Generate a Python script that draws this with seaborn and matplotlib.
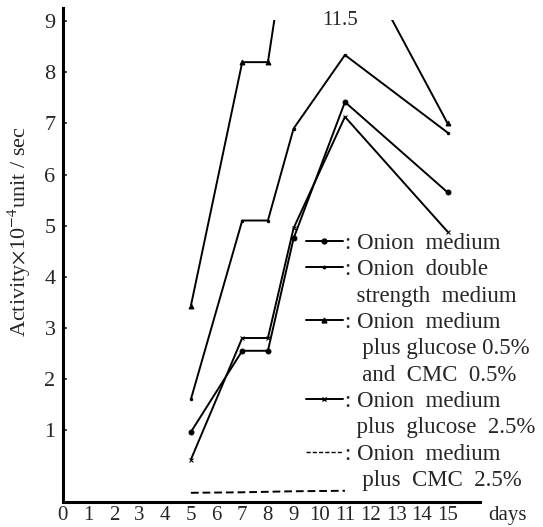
import matplotlib
matplotlib.use("Agg")
import matplotlib.pyplot as plt
from matplotlib.lines import Line2D
from matplotlib.patches import Rectangle
import seaborn as sns
import pandas as pd

# ---- data ----
days = [5, 7, 8, 9, 11, 15]
onion_medium = [0.96, 2.55, 2.55, 4.75, 7.42, 5.65]
onion_double = [1.60, 5.10, 5.10, 6.90, 8.34, 6.82]
onion_glc_cmc = [3.43, 8.20, 8.20, 11.5, 10.75, 7.00]
onion_glc25 = [0.42, 2.80, 2.80, 4.95, 7.13, 4.88]
days_cmc = [5, 7, 8, 9, 11]
onion_cmc25 = [-0.23, -0.22, -0.21, -0.20, -0.19]

x_ticks = list(range(0, 16))
y_ticks = list(range(1, 10))

names = ["Onion medium", "Onion double strength medium",
         "Onion medium plus glucose 0.5% and CMC 0.5%",
         "Onion medium plus glucose 2.5%", "Onion medium plus CMC 2.5%"]

frames = []
for nm, d, v in zip(names,
                    [days, days, days, days, days_cmc],
                    [onion_medium, onion_double, onion_glc_cmc, onion_glc25, onion_cmc25]):
    frames.append(pd.DataFrame({"day": d, "activity": v, "series": nm}))
df = pd.concat(frames, ignore_index=True)

sns.set_theme(style="white")
plt.rcParams["font.family"] = ["Liberation Serif", "DejaVu Serif"]
plt.rcParams["mathtext.fontset"] = "stix"

fig = plt.figure(figsize=(5.43, 5.27), dpi=100)
ax = fig.add_axes([62.5 / 543, 1 - 502 / 527, (480 - 62.5) / 543, (502 - 8) / 527])

styles = {
    names[0]: dict(marker="o", linestyle="-", markersize=3.5),
    names[1]: dict(marker=".", linestyle="-", markersize=3.5),
    names[2]: dict(marker="^", linestyle="-", markersize=3.5),
    names[3]: dict(marker="x", linestyle="-", markersize=3.5),
    names[4]: dict(marker=None, linestyle=(0, (4, 2)), markersize=0),
}
for nm in names:
    sub = df[df["series"] == nm]
    sns.lineplot(data=sub, x="day", y="activity", color="black",
                 linewidth=1.4, ax=ax, legend=False,
                 markeredgecolor="black", markerfacecolor="black",
                 **styles[nm])

ax.set_xlim(0, 16.26)
ax.set_ylim(-0.41, 9.26)

# the original breaks the off-scale curve at the 9 level
clip_rect = Rectangle((0, -0.41), 16.26, 9.43, transform=ax.transData)
for ln in ax.lines:
    ln.set_clip_path(clip_rect)

ax.set_xticks(x_ticks)
ax.set_xticklabels([str(t) for t in x_ticks], fontsize=15)
ax.set_yticks(y_ticks)
ax.set_yticklabels([str(t) for t in y_ticks], fontsize=16)
ax.tick_params(axis="x", length=0, pad=3)
ax.tick_params(axis="y", direction="in", length=3, width=1.2, pad=5, left=True)
for s in ["top", "right"]:
    ax.spines[s].set_visible(False)
for s in ["left", "bottom"]:
    ax.spines[s].set_linewidth(2.2)
    ax.spines[s].set_color("black")
ax.set_xlabel("")
ax.set_ylabel(r"Activity$\times$10$^{-4}$unit / sec", fontsize=16)
ax.yaxis.set_label_coords(-0.07, 0.547)

ax.text(1.02, -0.008, "days", transform=ax.transAxes, fontsize=15,
        ha="left", va="top")
ax.text(10.8, 9.02, "11.5", fontsize=15, ha="center", va="center")

blank = Line2D([], [], linestyle="none")
h1 = Line2D([], [], color="black", lw=1.4, marker="o", ms=3.5)
h2 = Line2D([], [], color="black", lw=1.4, marker=".", ms=3.5)
h3 = Line2D([], [], color="black", lw=1.4, marker="^", ms=3.5)
h4 = Line2D([], [], color="black", lw=1.4, marker="x", ms=3.5)
h5 = Line2D([], [], color="black", lw=1.0, ls=(0, (3, 1.5)))
handles = [h1, h2, blank, h3, blank, blank, h4, blank, h5, blank]
labels = [": Onion  medium", ": Onion  double", "  strength  medium",
          ": Onion  medium", "   plus glucose 0.5%", "   and  CMC  0.5%",
          ": Onion  medium", "  plus  glucose  2.5%", ": Onion  medium",
          "   plus  CMC  2.5%"]
leg = ax.legend(handles, labels, loc="upper left",
                bbox_to_anchor=(306 / 543, 1 - 233 / 527),
                bbox_transform=fig.transFigure, frameon=False,
                fontsize=16.5, handlelength=1.6, handletextpad=0.1,
                labelspacing=0.23, borderpad=0, borderaxespad=0)

fig.savefig("out.png", dpi=100)
